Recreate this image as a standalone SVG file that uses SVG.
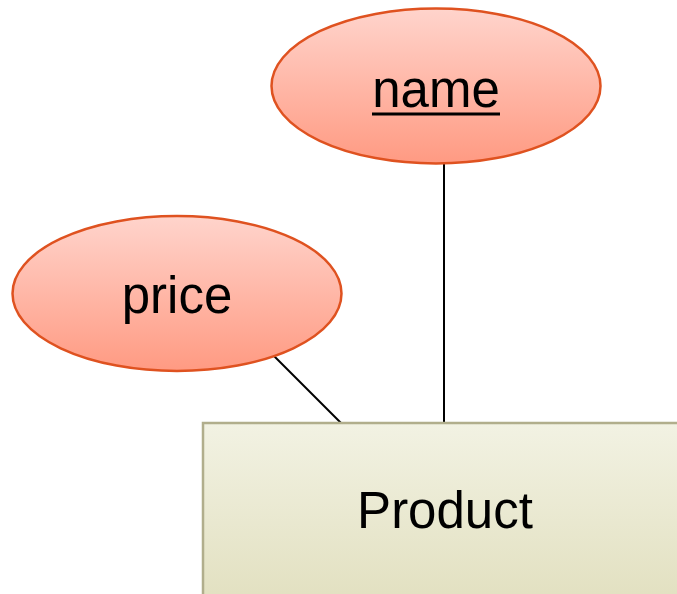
<svg xmlns="http://www.w3.org/2000/svg" width="677" height="594" viewBox="0 0 677 594">
  <style>
    .attr { stroke: #df5220; stroke-width: 2.5; fill: url(#attrFill); }
    .entity { stroke: #b1ae8c; stroke-width: 2.5; fill: url(#entityFill); }
    .label { font-family: "Liberation Sans", Arial, sans-serif; font-size: 51px; fill: #000; text-anchor: middle; }
    .link { stroke: #000; stroke-width: 2; fill: none; }
  </style>
  <defs>
    <linearGradient id="attrFill" x1="0" y1="0" x2="0" y2="1">
      <stop offset="0" stop-color="#ffd4cc"/>
      <stop offset="1" stop-color="#ff9a82"/>
    </linearGradient>
    <linearGradient id="entityFill" x1="0" y1="0" x2="0" y2="1">
      <stop offset="0" stop-color="#f2f2e3"/>
      <stop offset="1" stop-color="#e1dfbe"/>
    </linearGradient>
  </defs>
  <rect width="677" height="594" fill="#fff"/>

  <g id="connectors">
    <line class="link" x1="444" y1="164" x2="444" y2="423"/>
    <line class="link" x1="272" y1="354" x2="341" y2="423"/>
  </g>

  <g id="product">
    <rect class="entity" x="203" y="423" width="490" height="190"/>
    <text class="label" x="445" y="528">Product</text>
  </g>

  <g id="name">
    <ellipse class="attr" cx="436" cy="86" rx="164.5" ry="77.5"/>
    <text class="label" x="436" y="107">name</text>
    <line x1="372" y1="114" x2="500" y2="114" stroke="#000" stroke-width="3"/>
  </g>

  <g id="price">
    <ellipse class="attr" cx="177" cy="293.5" rx="164.5" ry="77.5"/>
    <text class="label" x="177" y="313">price</text>
  </g>
</svg>
